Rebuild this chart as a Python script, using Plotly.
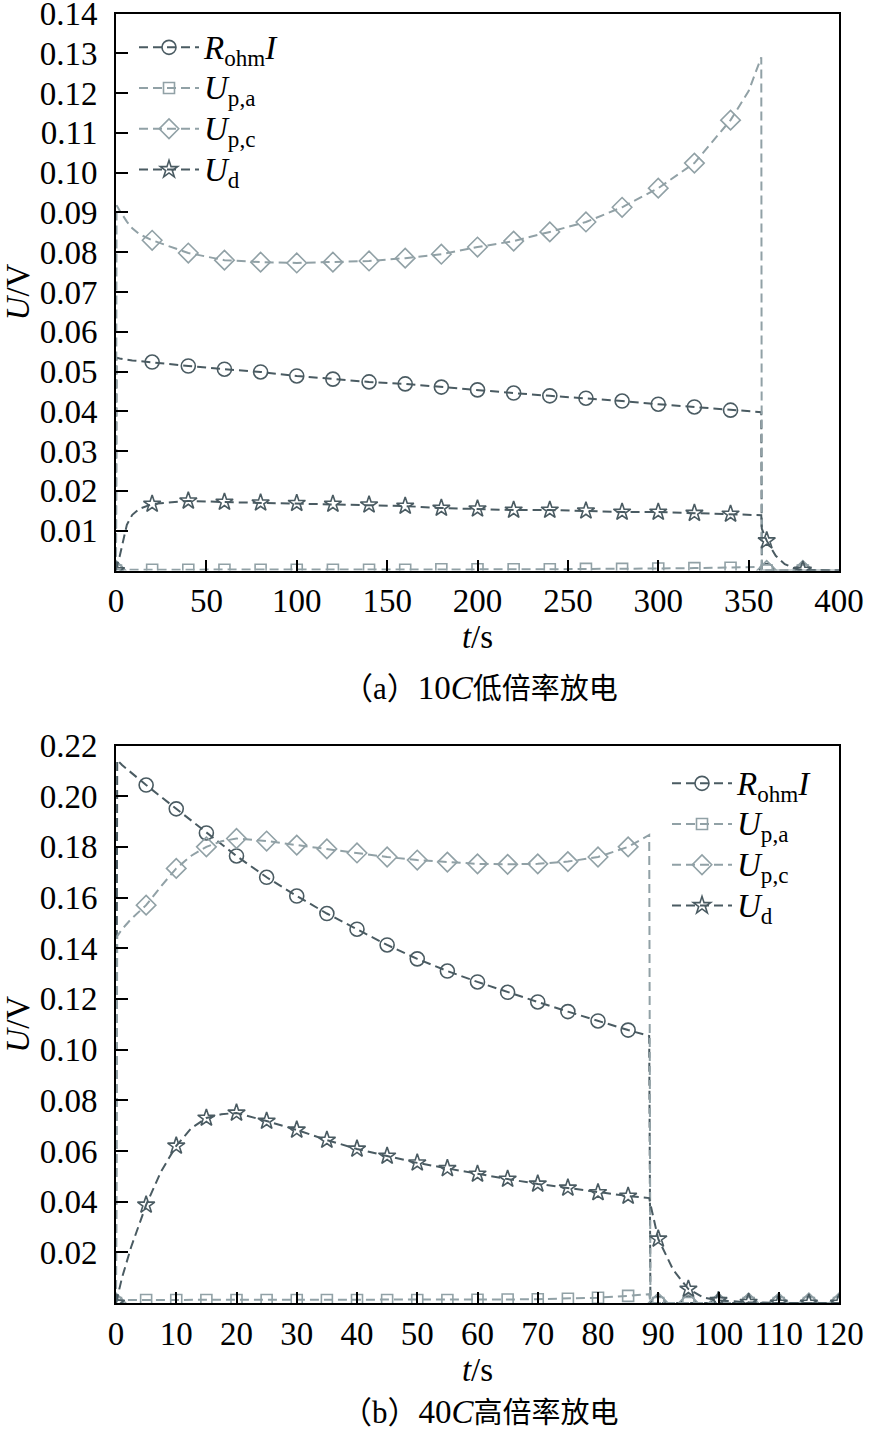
import plotly.graph_objects as go

# ---------------- data: (a) 10C low-rate discharge ----------------
t_a = [0, 0.3, 2, 4, 6, 9, 13, 20, 40, 60, 80, 100, 120, 140, 160, 180, 200, 220, 240,
       260, 280, 300, 320, 340, 350, 357, 357.3, 360, 365, 370, 375, 380, 400]
r_a = [0, 0.0535, 0.0533, 0.0531, 0.0530, 0.0528, 0.0526, 0.0524, 0.0514, 0.0506, 0.0499,
       0.0489, 0.0481, 0.0474, 0.0469, 0.0461, 0.0454, 0.0446, 0.0439, 0.0433, 0.0426,
       0.0418, 0.0411, 0.0403, 0.0400, 0.0398, 0, 0, 0, 0, 0, 0, 0]
upa_a = [0, 0.0002, 0.0002, 0.0002, 0.0002, 0.0002, 0.0002, 0.0002, 0.0002, 0.0002, 0.0002,
         0.0002, 0.0002, 0.0002, 0.0002, 0.0003, 0.0003, 0.0003, 0.0003, 0.0004, 0.0004,
         0.0005, 0.0006, 0.0007, 0.0008, 0.0009, 0, 0, 0, 0, 0, 0, 0]
upc_a = [0, 0.0918, 0.0905, 0.0890, 0.0877, 0.0860, 0.0845, 0.0830, 0.0798, 0.0780, 0.0775,
         0.0773, 0.0775, 0.0778, 0.0785, 0.0795, 0.0813, 0.0828, 0.0851, 0.0876, 0.0913,
         0.0961, 0.1024, 0.1132, 0.1205, 0.1290, 0, 0, 0, 0, 0, 0, 0]
ud_a = [0, 0.0008, 0.0035, 0.0073, 0.0115, 0.0140, 0.0155, 0.0167, 0.0175, 0.0172, 0.0170,
        0.0169, 0.0167, 0.0165, 0.0162, 0.0157, 0.0155, 0.0152, 0.0152, 0.0150, 0.0147,
        0.0147, 0.0144, 0.0142, 0.0141, 0.0139, 0.0105, 0.0075, 0.0037, 0.0016, 0.0006,
        0.0001, 0]
marker_t_a = [0, 20, 40, 60, 80, 100, 120, 140, 160, 180, 200, 220, 240, 260, 280, 300,
              320, 340, 360, 380]
xticks_a = [0, 50, 100, 150, 200, 250, 300, 350, 400]
yticks_a = [0.01, 0.02, 0.03, 0.04, 0.05, 0.06, 0.07, 0.08, 0.09, 0.10, 0.11, 0.12, 0.13, 0.14]

# ---------------- data: (b) 40C high-rate discharge ----------------
t_b = [0, 0.2, 1, 2.5, 5, 7.5, 10, 12.5, 15, 17.5, 20, 25, 30, 35, 40, 45, 50, 55, 60, 65,
       70, 75, 80, 85, 88.5, 88.7, 90, 92.5, 95, 97.5, 100, 105, 110, 115, 120]
r_b = [0, 0.2143, 0.2123, 0.2093, 0.2044, 0.1997, 0.1950, 0.1902, 0.1855, 0.1809, 0.1764,
       0.1680, 0.1606, 0.1537, 0.1475, 0.1413, 0.1358, 0.1310, 0.1267, 0.1226, 0.1188,
       0.1150, 0.1113, 0.1077, 0.1054, 0, 0, 0, 0, 0, 0, 0, 0, 0, 0]
upa_b = [0, 0.0012, 0.0012, 0.0012, 0.0012, 0.0012, 0.0012, 0.0012, 0.0012, 0.0012, 0.0012,
         0.0012, 0.0012, 0.0012, 0.0012, 0.0012, 0.0012, 0.0012, 0.0013, 0.0014, 0.0015,
         0.0017, 0.0021, 0.0028, 0.0035, 0, 0, 0, 0, 0, 0, 0, 0, 0, 0]
upc_b = [0, 0.1448, 0.1475, 0.1515, 0.1570, 0.1645, 0.1715, 0.1765, 0.1800, 0.1822, 0.1833,
         0.1823, 0.1807, 0.1792, 0.1776, 0.1760, 0.1748, 0.1740, 0.1733, 0.1731, 0.1733,
         0.1742, 0.1760, 0.1800, 0.1847, 0, 0, 0, 0, 0, 0, 0, 0, 0, 0]
ud_b = [0, 0.0020, 0.0100, 0.0220, 0.0387, 0.0520, 0.0620, 0.0690, 0.0730, 0.0745, 0.0750,
        0.0718, 0.0683, 0.0643, 0.0608, 0.0580, 0.0553, 0.0531, 0.0509, 0.0489, 0.0470,
        0.0454, 0.0436, 0.0422, 0.0414, 0.0390, 0.0253, 0.0130, 0.0055, 0.0022, 0.0010,
        0.0003, 0, 0, 0]
marker_t_b = [0, 5, 10, 15, 20, 25, 30, 35, 40, 45, 50, 55, 60, 65, 70, 75, 80, 85, 90, 95,
              100, 105, 110, 115, 120]
xticks_b = [0, 10, 20, 30, 40, 50, 60, 70, 80, 90, 100, 110, 120]
yticks_b = [0.02, 0.04, 0.06, 0.08, 0.10, 0.12, 0.14, 0.16, 0.18, 0.20, 0.22]

names = ["<i>R</i><sub>ohm</sub><i>I</i>", "<i>U</i><sub>p,a</sub>",
         "<i>U</i><sub>p,c</sub>", "<i>U</i><sub>d</sub>"]
captions = [("（a）", "10<i>C</i>", "低倍率放电"), ("（b）", "40<i>C</i>", "高倍率放电")]

# ---------------- styling ----------------
DARK = "#4a5b62"
LIGHT = "#91a1a6"
FONT = "Times New Roman, Liberation Serif, Noto Sans CJK SC, serif"
styles = [
    dict(color=DARK, symbol="circle-open", size=14),
    dict(color=LIGHT, symbol="square-open", size=11),
    dict(color=LIGHT, symbol="diamond-open", size=15),
    dict(color=DARK, symbol="star-open", size=13),
]
DASH = "9px,5px"

W, H = 869, 1434
fig = go.Figure()


def add_panel(t, series, marker_t, xa, ya, legend):
    for name, ys, st in zip(names, series, styles):
        line = dict(color=st["color"], width=2, dash=DASH)
        mk = dict(symbol=st["symbol"], size=st["size"], color=st["color"],
                  line=dict(color=st["color"], width=1.6))
        fig.add_trace(go.Scatter(x=t, y=ys, mode="lines", line=line, showlegend=False,
                                 xaxis=xa, yaxis=ya, hoverinfo="skip"))
        mx = [tt for tt in t if tt in marker_t]
        my = [yy for tt, yy in zip(t, ys) if tt in marker_t]
        fig.add_trace(go.Scatter(x=mx, y=my, mode="markers", marker=mk, showlegend=False,
                                 xaxis=xa, yaxis=ya))
        label = "<span style='font-size:33px'>" + name + "</span>"
        fig.add_trace(go.Scatter(x=[None], y=[None], mode="lines+markers", line=line,
                                 marker=mk, name=label, legend=legend, xaxis=xa, yaxis=ya))


add_panel(t_a, [r_a, upa_a, upc_a, ud_a], marker_t_a, "x", "y", "legend")
add_panel(t_b, [r_b, upa_b, upc_b, ud_b], marker_t_b, "x2", "y2", "legend2")

xdom = [116 / W, 839 / W]
ydom_a = [1 - 570.5 / H, 1 - 13.5 / H]
ydom_b = [1 - 1303 / H, 1 - 745.5 / H]

axis_common = dict(showline=True, linewidth=2, linecolor="black", mirror=True,
                   showgrid=False, zeroline=False, ticks="inside", tickcolor="black",
                   tickwidth=1.5, automargin=False, ticklabeloverflow="allow",
                   tickfont=dict(family=FONT, size=33, color="black"))


def fmt(v):
    return f"{v:.2f}"


def caption(parts):
    p, num, zh = parts
    return ("<span style='font-size:31px'>" + p + "</span>"
            "<span style='font-size:33px'>" + num + "</span>" + zh)


TITLE_FONT = dict(family=FONT, size=33, color="black")

fig.update_layout(
    width=W, height=H,
    margin=dict(l=0, r=0, t=0, b=0),
    paper_bgcolor="white", plot_bgcolor="white",
    font=dict(family=FONT, color="black"),
    xaxis=dict(domain=xdom, anchor="y", range=[0, 400], tickvals=xticks_a,
               ticktext=[str(v) for v in xticks_a], ticklen=11,
               title=dict(text="<i>t</i>/s", font=TITLE_FONT, standoff=1),
               **axis_common),
    yaxis=dict(domain=ydom_a, anchor="x", range=[0, 0.14], tickvals=yticks_a,
               ticktext=[fmt(v) for v in yticks_a], ticklen=12, ticklabelstandoff=10,
               title=dict(text="<i>U</i>/V", font=TITLE_FONT, standoff=4),
               **axis_common),
    xaxis2=dict(domain=xdom, anchor="y2", range=[0, 120], tickvals=xticks_b,
                ticktext=[str(v) for v in xticks_b], ticklen=11,
                title=dict(text="<i>t</i>/s", font=TITLE_FONT, standoff=0),
                **axis_common),
    yaxis2=dict(domain=ydom_b, anchor="x2", range=[0, 0.22], tickvals=yticks_b,
                ticktext=[fmt(v) for v in yticks_b], ticklen=12, ticklabelstandoff=10,
                title=dict(text="<i>U</i>/V", font=TITLE_FONT, standoff=4),
                **axis_common),
    legend=dict(x=134 / W, y=1 - 22 / H, xanchor="left", yanchor="top",
                bgcolor="rgba(0,0,0,0)", font=dict(family=FONT, size=29),
                itemwidth=60, tracegroupgap=0),
    legend2=dict(x=667 / W, y=1 - 758 / H, xanchor="left", yanchor="top",
                 bgcolor="rgba(0,0,0,0)", font=dict(family=FONT, size=29),
                 itemwidth=60, tracegroupgap=0),
    annotations=[
        dict(text=caption(captions[0]), x=480 / W, y=1 - 688 / H, xref="paper",
             yref="paper", yanchor="middle", showarrow=False,
             font=dict(family=FONT, size=29, color="black")),
        dict(text=caption(captions[1]), x=480 / W, y=1 - 1412 / H, xref="paper",
             yref="paper", yanchor="middle", showarrow=False,
             font=dict(family=FONT, size=29, color="black")),
    ],
)

fig.write_html("out.html", config={"displayModeBar": False},
               post_script="document.body.style.margin='0px';")
